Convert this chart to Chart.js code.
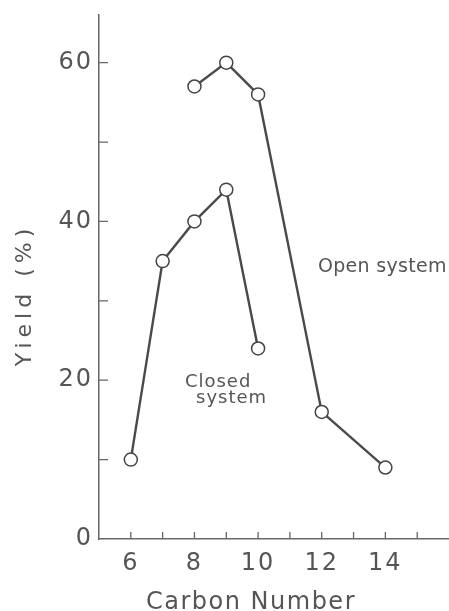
<!DOCTYPE html>
<html lang="en">
<head>
<meta charset="UTF-8">
<title>Yield vs Carbon Number</title>
<script src="https://cdn.jsdelivr.net/npm/chart.js@4/dist/chart.umd.min.js"></script>
<style>
  html, body { margin: 0; padding: 0; background: #fff; overflow: hidden; }
  #wrap { width: 449px; height: 611px; position: relative; }
  canvas { display: block; }
</style>
</head>
<body>
<div id="wrap"><canvas id="chart"></canvas></div>
<script>
// carbon number vs yield (%)
const closedCarbon = [6, 7, 8, 9, 10];
const closedYield  = [10, 35, 40, 44, 24];
const openCarbon   = [8, 9, 10, 12, 14];
const openYield    = [57, 60, 56, 16, 9];

const xLabelTicks = [6, 8, 10, 12, 14];
const yLabelTicks = [0, 20, 40, 60];

const toPoints = (xs, ys) => xs.map((x, i) => ({ x: x, y: ys[i] }));

const ink = '#555';
const font = 'DejaVu Sans';

// inward tick marks, text notes and axis titles
const decor = {
  id: 'decor',
  beforeDraw(chart) {
    chart.ctx.letterSpacing = '2px';
  },
  afterDraw(chart) {
    const ctx = chart.ctx;
    const xs = chart.scales.x, ys = chart.scales.y;
    const area = chart.chartArea;
    ctx.save();
    ctx.strokeStyle = '#666';
    ctx.lineWidth = 1.3;
    ctx.beginPath();
    for (let v = 10; v <= 60; v += 10) {
      const py = ys.getPixelForValue(v);
      ctx.moveTo(area.left, py);
      ctx.lineTo(area.left + 9, py);
    }
    for (let v = 6; v <= 15; v++) {
      const px = xs.getPixelForValue(v);
      ctx.moveTo(px, area.bottom);
      ctx.lineTo(px, area.bottom - 7);
    }
    ctx.stroke();

    ctx.fillStyle = ink;
    ctx.textBaseline = 'alphabetic';
    ctx.textAlign = 'left';
    ctx.letterSpacing = '0.3px';
    ctx.font = '19px "' + font + '"';
    ctx.fillText('Open system', xs.getPixelForValue(11.88), ys.getPixelForValue(33.6));
    ctx.letterSpacing = '1px';
    ctx.font = '18px "' + font + '"';
    ctx.fillText('Closed', xs.getPixelForValue(7.7), ys.getPixelForValue(19.1));
    ctx.fillText('system', xs.getPixelForValue(8.05), ys.getPixelForValue(17.1));

    // axis titles
    ctx.textAlign = 'center';
    ctx.letterSpacing = '1.5px';
    ctx.font = '24px "' + font + '"';
    ctx.fillText('Carbon Number', 251, 609);
    ctx.translate(25, 295);
    ctx.rotate(-Math.PI / 2);
    ctx.textBaseline = 'middle';
    ctx.letterSpacing = '5px';
    ctx.font = '22px "' + font + '"';
    ctx.fillText('Yield (%)', 0, 0);
    ctx.restore();
  }
};

const series = (xs, ys) => ({
  data: toPoints(xs, ys),
  showLine: true,
  borderColor: '#4a4a4a',
  borderWidth: 2.4,
  pointRadius: 6.5,
  pointBackgroundColor: '#fff',
  pointBorderColor: '#444',
  pointBorderWidth: 1.5
});

new Chart(document.getElementById('chart'), {
  type: 'scatter',
  data: {
    datasets: [
      series(closedCarbon, closedYield),
      series(openCarbon, openYield)
    ]
  },
  options: {
    responsive: true,
    maintainAspectRatio: false,
    animation: false,
    layout: { autoPadding: false, padding: { top: 15, right: 0, left: 0, bottom: 0 } },
    plugins: { legend: { display: false }, tooltip: { enabled: false } },
    scales: {
      x: {
        type: 'linear',
        min: 5,
        max: 16,
        grid: { display: false, drawTicks: false, tickLength: 0 },
        border: { display: true, color: '#666', width: 1.5 },
        ticks: {
          stepSize: 1,
          padding: 10,
          color: ink,
          font: { family: font, size: 24 },
          maxRotation: 0,
          autoSkip: false,
          callback: (v) => xLabelTicks.includes(v) ? v : ''
        },
        afterFit: (s) => { s.height = 72; s.paddingRight = 0; s.paddingLeft = 0; }
      },
      y: {
        min: 0,
        max: 66,
        grid: { display: false, drawTicks: false, tickLength: 0 },
        border: { display: true, color: '#666', width: 1.5 },
        ticks: {
          stepSize: 10,
          padding: 6,
          color: ink,
          font: { family: font, size: 24 },
          callback: (v) => yLabelTicks.includes(v) ? v : ''
        },
        afterFit: (s) => { s.width = 99; s.paddingTop = 0; s.paddingBottom = 0; }
      }
    }
  },
  plugins: [decor]
});
</script>
</body>
</html>
